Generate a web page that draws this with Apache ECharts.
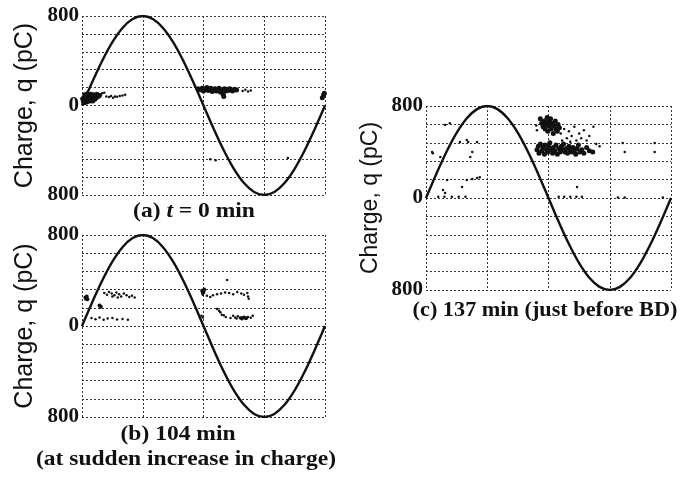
<!DOCTYPE html>
<html>
<head>
<meta charset="utf-8">
<script src="https://cdn.jsdelivr.net/npm/echarts@6/dist/echarts.min.js"></script>
<style>
html,body{margin:0;padding:0;background:#fff;}
#chart{width:683px;height:480px;}
</style>
</head>
<body>
<div id="chart"></div>
<script>
// applied voltage trace, every 15 deg (pC scale)
var phaseDeg = [0,15,30,45,60,75,90,105,120,135,150,165,180,195,210,225,240,255,270,285,300,315,330,345,360];
var voltTrace = [0,207,400,566,693,773,800,773,693,566,400,207,0,-207,-400,-566,-693,-773,-800,-773,-693,-566,-400,-207,0];

var yTickValues = [800, 0, -800];
var yTickLabels = ['800', '0', '800'];
var yName = 'Charge, q (pC)';
var captions = ['(a) {it|t} = 0 min', '(b) 104 min', '(at sudden increase in charge)', '(c) 137 min (just before BD)'];

// PD pulses [phase deg, charge pC]
var clusterA = [[2,40],[3,70],[4,95],[5,55],[6,30],[7,80],[8,105],[9,60],[10,45],[11,90],[12,70],[13,100],[14,50],[15,85],[16,65],[17,95],[18,75],[19,55],[20,88],[21,70],[22,100],[3,25],[5,85],[8,35],[12,40],[16,40],[1,60],[24,80],[26,92],
  [172,150],[175,140],[178,155],[180,130],[183,150],[185,160],[187,135],[189,145],[191,155],[193,125],[195,140],[197,150],[199,130],[201,145],[203,155],[205,120],[207,140],[209,100],[210,80],[211,150],[213,130],[215,145],[217,135],[219,150],[221,140],[223,130],[226,145],[229,138],
  [356,70],[358,95],[359,110]];
var sparseA = [[30,110],[33,115],[36,80],[40,75],[43,85],[46,70],[49,80],[52,78],[56,85],[60,90],[64,95],
  [238,130],[242,140],[246,125],[250,135],[190,-480],[198,-490],[305,-470]];

var clusterB = [[5,250],[6,240],[7,260],[8,235],[26,180],[28,170],[178,310],[179,290],[180,300],[181,320],[236,70],[240,75],[243,68]];
var sparseB = [[27,165],[33,290],[37,275],[40,300],[44,285],[48,270],[51,295],[55,280],[58,260],[62,285],[66,270],[70,255],[74,265],[78,250],[45,260],[53,250],
  [14,70],[20,60],[26,75],[32,55],[38,65],[45,70],[52,58],[60,62],[68,55],
  [179,275],[185,265],[190,255],[194,270],[200,280],[206,285],[212,295],[218,290],[224,280],[230,300],[236,285],[240,275],[245,290],[215,404],[246,260],[247,240],
  [177,90],[179,75],[200,150],[203,135],[205,120],[207,100],[210,95],[213,80],[220,70],[224,90],[227,75],[229,65],[231,85],[234,70],[237,60],[246,80],[250,72],[253,90]];

var clusterC = [[168,690],[170,650],[172,620],[174,670],[175,600],[176,640],[178,700],[179,580],[180,660],[181,625],[183,690],[184,600],[185,650],[187,560],[188,630],[190,670],[191,600],[193,580],[194,640],[196,610],
  [163,420],[165,450],[166,390],[168,470],[170,410],[172,440],[174,380],[175,460],[177,420],[179,400],[180,450],[182,480],[184,420],[186,390],[187,440],[189,410],[191,460],[193,380],[195,430],[197,400],[199,450],[200,420],[202,470],[204,400],[206,430],[208,390],[210,450],[212,420],[214,400],[216,440],[218,410],[220,380],[222,430],[224,460],[226,400],[229,420],[232,390],[236,440],[240,410],[245,400]];
var sparseC = [[198,560],[203,600],[207,520],[210,580],[214,540],[218,620],[221,500],[225,560],[228,520],[232,590],[236,500],[240,540],[246,620],[250,470],[255,450],[200,500],[212,490],[163,590],[162,630],
  [10,390],[28,635],[35,650],[50,487],[62,487],[75,487],[68,400],[65,357],[9,400],[21,357],[31,157],[60,157],[68,165],[75,174],[79,180],[53,96],[25,70],[28,43],[60,504],
  [18,10],[27,10],[38,10],[48,10],[58,10],[195,10],[203,10],[212,10],[221,10],[229,10],[222,96],
  [292,400],[336,400],[289,478],[336,478],[282,5],[292,5],[348,5]];

var grids = [
  {left: 82, top: 16, width: 243, height: 179},
  {left: 82, top: 235, width: 243, height: 182},
  {left: 426, top: 106, width: 245, height: 184}
];
var nameSizes = [25, 25, 23];

var chart = echarts.init(document.getElementById('chart'));
var dotted = {color: '#333', width: 1, type: [2, 2]};

function xAx(i) {
  return {gridIndex: i, type: 'value', min: 0, max: 360, interval: 90,
    axisLine: {show: false}, axisTick: {show: false}, axisLabel: {show: false},
    splitLine: {show: true, lineStyle: dotted}};
}
function yAx(i) {
  return {gridIndex: i, type: 'value', min: -800, max: 800, interval: 160,
    name: yName, nameLocation: 'middle', nameRotate: 90, nameGap: 44,
    nameTextStyle: {fontFamily: 'Liberation Sans', fontSize: nameSizes[i], color: '#111'},
    axisLine: {show: false}, axisTick: {show: false},
    axisLabel: {margin: 3, fontFamily: 'Liberation Serif', fontWeight: 'bold', fontSize: 21, color: '#111',
      formatter: function (v) {
        var k = yTickValues.indexOf(v);
        return k < 0 ? '' : yTickLabels[k];
      }},
    splitLine: {show: true, lineStyle: dotted}};
}
function trace(i) {
  return {type: 'line', xAxisIndex: i, yAxisIndex: i, smooth: 0.35, symbol: 'none',
    lineStyle: {color: '#111', width: 2.4},
    data: phaseDeg.map(function (p, k) { return [p, voltTrace[k]]; })};
}
function pts(i, d, s) {
  return {type: 'scatter', xAxisIndex: i, yAxisIndex: i, symbolSize: s,
    itemStyle: {color: '#111', opacity: 1}, data: d};
}
function cap(x, y, t, sx) {
  return {type: 'text', x: x, y: y, scaleX: sx,
    style: {text: t, font: 'bold 21px "Liberation Serif"', fill: '#111', align: 'center', verticalAlign: 'middle',
      rich: {it: {fontStyle: 'italic', fontWeight: 'bold', fontSize: 21, fontFamily: 'Liberation Serif'}}}};
}

var option = {
  backgroundColor: '#fff',
  animation: false,
  grid: grids,
  xAxis: [xAx(0), xAx(1), xAx(2)],
  yAxis: [yAx(0), yAx(1), yAx(2)],
  series: [trace(0), trace(1), trace(2),
    pts(0, clusterA, 5), pts(0, sparseA, 2.5),
    pts(1, clusterB, 4), pts(1, sparseB, 2.5),
    pts(2, clusterC, 5), pts(2, sparseC, 2.5)],
  graphic: [
    cap(194, 212, captions[0], 1.12),
    cap(178, 435, captions[1], 1.12),
    cap(186, 460, captions[2], 1.12),
    cap(545, 311, captions[3], 1.06)
  ]
};
chart.setOption(option);
</script>
</body>
</html>
